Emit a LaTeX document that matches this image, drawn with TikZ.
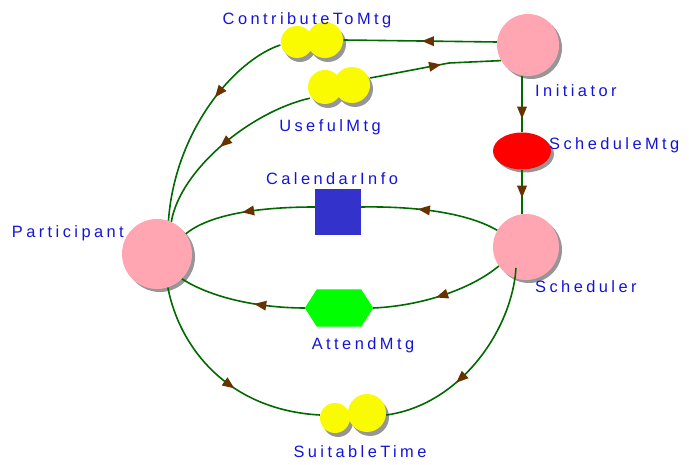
\documentclass[tikz,border=0pt]{standalone}
\usepackage{fontspec}
\newfontfamily\lblfont[LetterSpace=21]{Liberation Sans}
\usetikzlibrary{decorations.markings,shapes.geometric,shadows,calc}
\definecolor{edgegreen}{RGB}{0,105,0}
\definecolor{arrowbrown}{RGB}{102,51,0}
\definecolor{lblblue}{RGB}{20,20,215}
\definecolor{agentpink}{RGB}{255,166,178}
\definecolor{shadowgray}{RGB}{150,150,150}
\definecolor{blobyellow}{RGB}{250,250,0}
\definecolor{calblue}{RGB}{51,51,204}
\tikzset{
  x=1pt, y=-1pt,
  agent/.style={circle, fill=agentpink, inner sep=0pt, minimum size=#1,
    drop shadow={shadow xshift=3pt, shadow yshift=-3pt, fill=shadowgray, opacity=1}},
  goalnode/.style={ellipse, fill=red, inner sep=0pt, minimum width=58pt, minimum height=37pt,
    drop shadow={shadow xshift=3pt, shadow yshift=-3pt, fill=shadowgray, opacity=1}},
  resnode/.style={rectangle, fill=calblue, inner sep=0pt, minimum size=46pt},
  hexbox/.style={rectangle, inner sep=0pt, minimum width=68pt, minimum height=37pt},
  blobbox/.style={rectangle, inner sep=0pt, minimum width=#1, minimum height=36pt},
  lbl/.style={text=lblblue, font=\lblfont\fontsize{16.4pt}{18pt}\selectfont, inner sep=0pt},
  flow/.style={draw=edgegreen, line width=1.6pt, postaction={decorate},
    decoration={markings, mark=at position #1 with {\fill[arrowbrown] (6pt,0pt) -- (-6pt,5pt) -- (-6pt,-5pt) -- cycle;}}},
  flow/.default=0.5
}
\newcommand{\blobpair}[6]{%
  \fill[shadowgray] (#1+3,#2+4) circle (#3) (#4+3,#5+4) circle (#6);
  \fill[blobyellow] (#1,#2) circle (#3) (#4,#5) circle (#6);
}
\begin{document}
\begin{tikzpicture}
\useasboundingbox (0,0) rectangle (689,465);

% agents
\node[agent=62pt] (init) at (528,45) {};
\node[agent=66pt] (sched) at (526,247) {};
\node[agent=70pt] (part) at (157,254) {};
\node[goalnode] (smtg) at (522,151) {};
\node[resnode] (cal) at (338,212) {};
\node[hexbox] (attend) at (339,308) {};
\fill[green] (attend.west) -- ($(attend.north west)+(12,0)$) -- ($(attend.north east)+(-12,0)$)
  -- (attend.east) -- ($(attend.south east)+(-12,0)$) -- ($(attend.south west)+(12,0)$) -- cycle;

% blobs
\node[blobbox=63pt] (contrib) at (312,41) {};
\blobpair{297}{42}{16}{325}{40}{18}
\node[blobbox=62pt] (useful) at (339,86) {};
\blobpair{325}{87}{17}{352}{85}{18}
\node[blobbox=66pt] (suit) at (353,415) {};
\blobpair{335}{418}{15}{367}{413}{19}

% labels
\node[lbl, anchor=west] (linit) at (535,91) {Initiator};
\node[lbl, anchor=west] (lsmtg) at (549,145) {ScheduleMtg};
\node[lbl, anchor=west] (lsched) at (535,287) {Scheduler};
\node[lbl, anchor=east] (lpart) at (124,233) {Participant};
\node[lbl] (lcal) at (332,179) {CalendarInfo};
\node[lbl] (lattend) at (363,345) {AttendMtg};
\node[lbl] (lcontrib) at (307,20) {ContributeToMtg};
\node[lbl] (luseful) at (330,127) {UsefulMtg};
\node[lbl] (lsuit) at (360,452) {SuitableTime};

% connectors
\draw[flow=0.45] (init.west |- 0,42) -- (contrib.east |- 0,40);
\draw[flow=0.36] (contrib.west |- 0,45) .. controls (235,60) and (175,130) .. (part.71);
\draw[flow=0.5] (useful.east |- 0,78) -- (449,63) -- (init.210);
\draw[flow=0.5] ($(useful.south west)+(2,-6)$) .. controls (250,112) and (180,170) .. (part.66);
\draw[flow=0.55] (sched.150) .. controls (470,214) and (420,206) .. (cal.east |- 0,207);
\draw[flow=0.5] (cal.west |- 0,207) .. controls (260,207) and (210,214) .. (part.35);
\draw[flow=0.48] (sched.215) .. controls (470,290) and (420,306) .. (attend.east);
\draw[flow=0.35] (attend.west) .. controls (265,308) and (215,300) .. (part.-45);
\draw[flow=0.55] (part.-72) .. controls (180,350) and (230,410) .. (suit.west);
\draw[flow=0.6] ($(sched.center)+(-10,21)$) .. controls (512,330) and (460,405) .. (suit.east);
\draw[flow=0.65] (smtg.north |- init.south) -- (smtg.north);
\draw[flow=0.5] (smtg.south) -- (sched.north -| smtg.south);
\end{tikzpicture}
\end{document}
